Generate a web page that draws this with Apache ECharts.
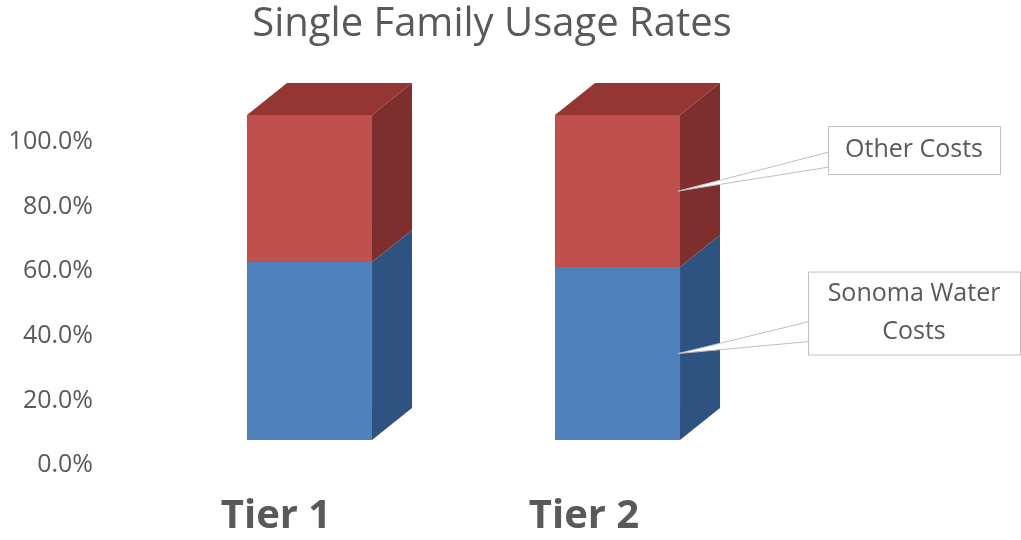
<!DOCTYPE html>
<html>
<head>
<meta charset="utf-8">
<script src="https://cdn.jsdelivr.net/npm/echarts@6/dist/echarts.min.js"></script>
<style>html,body{margin:0;padding:0;background:#fff;}#c{width:1021px;height:540px;}</style>
</head>
<body>
<div id="c"></div>
<script>
const titleText = 'Single Family Usage Rates';
const categories = ['Tier 1', 'Tier 2'];
const seriesNames = ['Sonoma Water Costs', 'Other Costs'];
const sonomaWater = [54.8, 53.2];
const otherCosts = [45.2, 46.8];
const yTicks = [0, 20, 40, 60, 80, 100];
const calloutTexts = ['Sonoma Water\nCosts', 'Other Costs'];

const FONT = '"Open Sans", "Liberation Sans", sans-serif';
const GRAY = '#595959';
const DX = 40, DY = -32;           // depth offset of 3D bars
const BAR_RATIO = 0.406;            // bar width / band width
const colors = {
  front: ['#4f81bd', '#c0504d'],
  side:  ['#2f5380', '#7e2e2c'],
  top:   ['#3d679c', '#943634']
};
// callout geometry relative to tip (box left offset, box top offset, box w, box h, wedge base y offsets)
const callouts = [
  {dx: 130, dy: -82, w: 212, h: 83, b0: -32, b1: -12},
  {dx: 150, dy: -65, w: 172, h: 48, b0: -39, b1: -24}
];

const stacks = [sonomaWater, otherCosts];

function makeSeries(si) {
  const data = stacks[si].map((v, i) => {
    let base = 0;
    for (let k = 0; k < si; k++) base += stacks[k][i];
    return [i, base, base + v];
  });
  return {
    name: seriesNames[si],
    type: 'custom',
    xAxisIndex: 1,
    yAxisIndex: 1,
    data: data,
    encode: {x: 0, y: [1, 2]},
    renderItem: function (params, api) {
      const cat = api.value(0);
      const lo = api.value(1), hi = api.value(2);
      const pLo = api.coord([cat, lo]);
      const pHi = api.coord([cat, hi]);
      const bw = api.size([1, 0])[0] * BAR_RATIO;
      const xl = pLo[0] - bw / 2, xr = pLo[0] + bw / 2;
      const yb = pLo[1], yt = pHi[1];
      const children = [
        {type: 'rect', shape: {x: xl, y: yt, width: bw, height: yb - yt},
         style: {fill: colors.front[si]}},
        {type: 'polygon', shape: {points: [[xr, yb], [xr, yt], [xr + DX, yt + DY], [xr + DX, yb + DY]]},
         style: {fill: colors.side[si]}}
      ];
      if (si === stacks.length - 1) {
        children.push({type: 'polygon',
          shape: {points: [[xl, yt], [xr, yt], [xr + DX, yt + DY], [xl + DX, yt + DY]]},
          style: {fill: colors.top[si]}});
      }
      if (params.dataIndex === categories.length - 1) {
        const c = callouts[si];
        const tx = xr - 2, ty = (yb + yt) / 2;
        const bx = tx + c.dx, by = ty + c.dy;
        children.push({type: 'polygon', z2: 10,
          shape: {points: [[tx, ty], [bx + 1, ty + c.b0], [bx + 1, ty + c.b1]]},
          style: {fill: '#ffffff', stroke: '#bfbfbf', lineWidth: 1}});
        children.push({type: 'rect', z2: 11,
          shape: {x: bx + 0.5, y: by + 0.5, width: c.w, height: c.h},
          style: {fill: '#ffffff', stroke: '#bfbfbf', lineWidth: 1}});
        children.push({type: 'text', z2: 12,
          style: {x: bx + c.w / 2, y: by + c.h / 2, text: calloutTexts[si],
            align: 'center', verticalAlign: 'middle', fill: GRAY,
            font: '25px ' + FONT, lineHeight: 38}});
      }
      return {type: 'group', children: children};
    }
  };
}

const chart = echarts.init(document.getElementById('c'), null, {renderer: 'canvas'});
chart.setOption({
  animation: false,
  backgroundColor: '#ffffff',
  title: {
    text: titleText, left: 487, top: 0, textAlign: 'center',
    textStyle: {fontFamily: FONT, fontSize: 40, fontWeight: 'normal', color: GRAY}
  },
  grid: [
    {left: 122, right: 283, top: 142, bottom: 75},
    {left: 155.5, right: 249.5, top: 115, bottom: 100}
  ],
  xAxis: [
    {type: 'category', gridIndex: 0, data: categories,
     axisLine: {show: false}, axisTick: {show: false},
     axisLabel: {margin: 32, fontFamily: FONT, fontSize: 40, fontWeight: 'bold', color: GRAY}},
    {type: 'category', gridIndex: 1, data: categories, show: false}
  ],
  yAxis: [
    {type: 'value', gridIndex: 0, min: 0, max: 100, interval: 20,
     axisLine: {show: false}, axisTick: {show: false}, splitLine: {show: false},
     axisLabel: {margin: 29, fontFamily: FONT, fontSize: 25, color: GRAY,
       formatter: v => yTicks.indexOf(v) >= 0 ? v.toFixed(1) + '%' : ''}},
    {type: 'value', gridIndex: 1, min: 0, max: 100, show: false}
  ],
  series: [makeSeries(0), makeSeries(1)]
});
</script>
</body>
</html>
